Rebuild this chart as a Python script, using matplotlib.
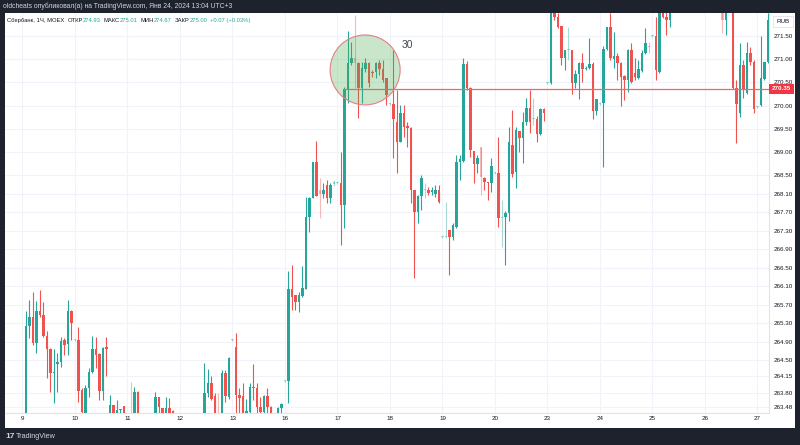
import numpy as np
import matplotlib
matplotlib.use("Agg")
import matplotlib.pyplot as plt
from matplotlib import font_manager
from matplotlib.patches import Ellipse, Rectangle

plt.rcParams['font.family'] = ['Liberation Sans', 'DejaVu Sans']

# hourly candles, Сбербанк 1Ч (index = bar number, 15 bars per day)
opens = [
    262.95, 262.99, 265.24, 265.43, 264.87, 265.56, 265.47, 265.02, 264.74, 264.22, 264.42, 264.46, 264.93, 264.85, 265.56,  # 9
    264.93, 264.93, 263.85, 263.36, 263.90, 264.24, 264.74, 264.63, 263.83, 264.78, 263.30, 263.53, 263.36, 263.42, 263.51,  # 10
    263.20, 263.30, 263.15, 263.81, 263.20, 263.00, 263.20, 263.10, 263.25, 263.70, 263.47, 263.30, 263.47, 263.40, 263.30,  # 11
    263.10, 263.10, 262.95, 263.05, 263.00, 263.15, 263.20, 263.00, 263.79, 264.01, 263.73, 263.30, 263.20, 264.22, 263.70,  # 12
    264.93, 264.78, 263.75, 263.73, 263.30, 263.38, 263.92, 263.90, 263.49, 263.38, 263.73, 263.49, 263.20, 263.20, 263.47,  # 13
    264.05, 264.05, 266.04, 265.91, 265.75, 265.89, 266.04, 267.59, 268.00, 268.78, 268.17, 268.09, 268.28, 268.00, 268.30,  # 16
    268.33, 268.33, 267.85, 270.36, 270.92, 271.03, 270.92, 270.38, 270.79, 270.92, 270.72, 270.72, 270.92, 270.79, 270.59,  # 17
    270.03, 270.03, 269.64, 269.21, 269.84, 269.56, 269.51, 268.17, 267.70, 268.04, 268.17, 268.17, 268.13, 268.09, 268.17,  # 18
    267.16, 267.16, 267.31, 267.16, 267.37, 268.78, 268.80, 270.90, 270.38, 269.02, 268.74, 269.10, 268.43, 268.35, 268.33,  # 19
    268.54, 268.54, 267.57, 267.59, 267.68, 269.15, 268.56, 269.45, 269.30, 269.64, 269.95, 269.71, 269.71, 269.38, 269.92,  # 20
    270.49, 270.49, 272.00, 271.91, 271.72, 271.03, 271.20, 271.20, 270.49, 270.68, 270.92, 270.79, 270.81, 270.90, 269.88,  # 23
    270.03, 270.05, 271.22, 271.69, 271.00, 271.07, 270.92, 270.64, 270.55, 271.20, 270.70, 270.59, 270.74, 271.13, 271.28,  # 24
    271.50, 271.50, 270.72, 272.05, 271.91, 271.85, 272.10, 272.30, 272.25, 272.45, 272.35, 272.50, 272.40, 272.30, 272.35,  # 25
    272.20, 272.20, 272.35, 272.25, 272.15, 272.10, 271.85, 272.05, 272.15, 270.38, 269.84, 270.87, 270.27, 271.13, 270.94,  # 26
    269.97, 270.01, 270.57, 270.94,  # 27
]
highs = [
    263.00, 265.56, 265.80, 265.97, 265.78, 266.01, 265.75, 265.13, 264.76, 264.74, 264.65, 265.00, 264.98, 265.80, 265.58,
    264.95, 265.21, 263.90, 263.96, 264.33, 265.02, 265.00, 264.65, 264.78, 265.00, 263.75, 263.53, 263.64, 263.45, 263.51,
    263.25, 264.03, 263.92, 263.83, 263.30, 263.30, 263.30, 263.32, 263.81, 263.70, 263.47, 263.70, 263.68, 263.42, 263.32,
    263.15, 263.20, 263.15, 263.20, 263.25, 263.30, 263.30, 264.44, 264.31, 264.16, 263.79, 263.79, 264.29, 264.29, 264.57,
    264.95, 265.08, 263.90, 264.01, 263.66, 264.01, 264.42, 264.01, 263.70, 263.75, 263.90, 263.52, 263.30, 263.49, 263.57,
    264.07, 266.43, 266.55, 265.91, 265.97, 266.53, 268.02, 268.02, 268.78, 269.23, 268.43, 268.33, 268.39, 268.33, 268.39,
    268.35, 268.99, 270.40, 271.61, 271.37, 271.95, 270.94, 270.94, 271.03, 270.94, 270.77, 270.94, 270.98, 270.98, 270.59,
    270.05, 271.20, 270.33, 270.01, 270.01, 269.64, 269.54, 268.17, 268.07, 268.50, 268.33, 268.24, 268.24, 268.28, 268.28,
    267.18, 267.91, 267.31, 267.46, 268.93, 268.93, 271.03, 270.96, 270.40, 269.02, 268.93, 269.10, 268.45, 268.35, 268.86,
    268.56, 269.32, 267.96, 267.72, 269.54, 269.90, 269.54, 269.45, 269.86, 270.16, 270.33, 270.16, 269.77, 269.95, 269.94,
    270.51, 272.20, 272.15, 272.00, 271.72, 271.20, 271.69, 271.20, 270.77, 270.94, 271.13, 270.85, 271.46, 270.94, 270.14,
    270.05, 271.28, 271.69, 272.00, 271.59, 271.13, 270.94, 270.66, 271.22, 271.35, 271.03, 270.98, 271.20, 271.67, 271.37,
    271.52, 271.91, 272.15, 272.20, 272.10, 272.20, 272.40, 272.45, 272.55, 272.60, 272.65, 272.60, 272.50, 272.45, 272.40,
    272.22, 272.45, 272.50, 272.35, 272.25, 272.20, 272.15, 272.30, 272.25, 270.55, 271.35, 270.98, 271.37, 271.26, 270.98,
    269.99, 271.50, 270.94, 272.00,
]
lows = [
    262.80, 262.88, 264.99, 264.83, 264.65, 265.43, 265.00, 264.11, 263.81, 263.57, 263.81, 264.35, 264.61, 264.61, 264.93,
    264.91, 263.60, 263.21, 263.25, 263.70, 264.22, 264.33, 263.64, 263.64, 264.16, 263.20, 263.21, 263.20, 263.30, 263.20,
    263.15, 263.05, 263.10, 263.00, 262.90, 262.90, 263.00, 263.00, 263.10, 263.36, 263.20, 263.25, 263.25, 263.20, 263.00,
    263.05, 262.85, 262.85, 262.90, 262.95, 263.05, 263.00, 262.95, 263.70, 263.64, 263.10, 263.00, 263.10, 263.60, 263.66,
    264.91, 263.30, 263.30, 263.10, 263.20, 263.30, 263.64, 263.30, 263.30, 263.30, 263.30, 263.10, 263.00, 263.10, 263.30,
    264.03, 263.57, 265.58, 265.58, 265.54, 265.86, 266.04, 267.27, 268.00, 268.04, 267.57, 268.00, 267.89, 267.89, 268.26,
    268.31, 266.99, 267.35, 270.05, 270.87, 270.38, 269.73, 270.05, 270.72, 270.40, 270.62, 270.59, 270.66, 270.51, 270.01,
    270.01, 268.86, 268.54, 269.21, 269.32, 269.10, 267.89, 266.27, 267.46, 267.74, 268.00, 268.07, 268.07, 268.02, 267.89,
    267.14, 267.14, 266.34, 267.09, 267.35, 268.39, 268.78, 270.33, 268.89, 268.33, 268.54, 268.07, 268.17, 267.96, 268.13,
    268.52, 267.37, 266.94, 266.55, 267.50, 268.45, 268.22, 268.99, 268.76, 269.58, 269.40, 269.58, 269.21, 269.36, 269.66,
    270.47, 270.47, 271.85, 271.67, 270.87, 270.77, 270.98, 270.25, 270.38, 270.14, 270.51, 270.77, 270.80, 269.71, 269.79,
    270.01, 268.67, 271.20, 270.98, 270.81, 270.55, 269.99, 270.12, 270.29, 270.49, 270.55, 270.57, 270.72, 271.12, 271.13,
    271.48, 270.55, 270.70, 271.89, 271.52, 271.69, 272.05, 272.15, 272.20, 272.25, 272.30, 272.30, 272.15, 272.20, 272.10,
    272.18, 272.10, 272.15, 272.05, 272.03, 271.57, 271.52, 272.02, 270.36, 269.19, 269.75, 270.16, 270.25, 270.87, 269.84,
    269.95, 269.99, 270.55, 270.92,
]
closes = [
    262.95, 265.24, 265.43, 264.87, 265.56, 265.47, 265.02, 264.74, 264.22, 264.24, 264.46, 264.91, 264.83, 265.56, 265.30,
    264.93, 263.83, 263.38, 263.90, 264.24, 264.74, 264.61, 263.83, 264.76, 264.74, 263.53, 263.36, 263.42, 263.43, 263.36,
    263.20, 263.15, 263.81, 263.20, 263.00, 263.20, 263.10, 263.25, 263.70, 263.49, 263.30, 263.47, 263.34, 263.30, 263.10,
    263.10, 262.95, 263.05, 263.00, 263.15, 263.20, 263.10, 263.79, 264.01, 263.66, 263.25, 263.20, 264.22, 263.73, 264.55,
    264.93, 263.75, 263.68, 263.25, 263.40, 263.92, 263.90, 263.49, 263.38, 263.73, 263.49, 263.20, 263.10, 263.47, 263.55,
    264.05, 266.04, 265.86, 265.75, 265.91, 266.06, 267.59, 268.00, 268.78, 268.04, 268.09, 268.17, 268.00, 268.28, 268.35,
    268.33, 267.85, 270.36, 270.92, 271.03, 270.92, 270.38, 270.81, 270.92, 270.49, 270.70, 270.92, 270.79, 270.55, 270.23,
    270.03, 269.71, 269.21, 269.84, 269.54, 269.51, 268.17, 267.70, 268.04, 268.43, 268.17, 268.11, 268.17, 268.17, 267.91,
    267.16, 267.18, 267.16, 267.42, 268.78, 268.84, 270.90, 270.38, 269.04, 268.74, 268.86, 268.45, 268.35, 268.33, 268.69,
    268.54, 267.57, 267.59, 267.68, 269.21, 268.52, 269.47, 269.30, 269.64, 269.95, 269.64, 269.72, 269.38, 269.92, 269.84,
    270.49, 272.05, 271.91, 271.69, 271.03, 271.20, 271.21, 270.49, 270.68, 270.92, 270.79, 270.81, 270.90, 269.88, 270.14,
    270.03, 271.22, 271.69, 271.03, 271.07, 270.92, 270.62, 270.55, 271.20, 270.51, 270.62, 270.79, 271.13, 271.35, 271.27,
    271.50, 270.77, 272.05, 271.91, 271.85, 272.10, 272.30, 272.25, 272.45, 272.35, 272.50, 272.40, 272.30, 272.35, 272.20,
    272.20, 272.35, 272.25, 272.15, 272.10, 271.85, 272.05, 272.15, 270.38, 270.03, 270.87, 270.33, 271.13, 270.94, 269.92,
    269.97, 270.59, 270.94, 271.85,
]
# thin / low-activity bars drawn pale on the chart
faded = [0, 15, 30, 31, 45, 56, 60, 75, 85, 89, 90, 95, 105, 115, 120, 121, 131, 135, 137,
         146, 150, 156, 165, 179, 180, 195, 200, 210]

day_labels = ['9', '10', '11', '12', '13', '16', '17', '18', '19', '20', '23', '24', '25', '26', '27']
price_ticks = [271.50, 271.00, 270.50, 270.00, 269.50, 269.00, 268.50, 268.10, 267.70,
               267.30, 266.90, 266.50, 266.10, 265.70, 265.30, 264.90, 264.50, 264.15,
               263.80, 263.48]
ray_price = 270.35

W, H = 800, 445
GREEN = '#26a69a'
RED = '#ef5350'
TEXT = '#131722'
LINE = '#e0e3eb'

# narrow face for the price scale if it is there
try:
    font_manager.findfont('Liberation Sans Narrow', fallback_to_default=False)
    SCALE_FONT = ['Liberation Sans Narrow', 'DejaVu Sans']
    SCALE_SIZE = 5.2
except ValueError:
    SCALE_FONT = ['Liberation Sans', 'DejaVu Sans']
    SCALE_SIZE = 4.5


def fx(px):
    return px / W


def fy(py):
    return 1 - py / H


fig = plt.figure(figsize=(8, 4.45), dpi=100, facecolor='#1e222d')

# white chart panel
panel = fig.add_axes([fx(5), fy(428), fx(790), 415 / H])
panel.set_facecolor('white')
panel.set_xticks([])
panel.set_yticks([])
for s in panel.spines.values():
    s.set_visible(False)

ax = fig.add_axes([fx(5), fy(413), fx(764), 400 / H])
ax.set_facecolor('white')
ax.set_xlim(-5, 213.3)
ax.set_ylim(263.36, 272.0)

o = np.array(opens)
h = np.array(highs)
l = np.array(lows)
c = np.array(closes)
x = np.arange(len(o))
up = c >= o
cols = []
for i in range(len(o)):
    rgba = list(matplotlib.colors.to_rgba(GREEN if up[i] else RED))
    if i in faded:
        rgba[3] = 0.4
    cols.append(tuple(rgba))

ax.vlines(x, l, h, colors=cols, linewidth=0.8, zorder=3)
ax.bar(x, np.maximum(np.abs(c - o), 0.018), bottom=np.minimum(o, c), width=0.8,
       color=cols, linewidth=0, zorder=4)

# grid
ax.set_xticks(np.arange(0, 15 * len(day_labels), 15))
ax.set_xticklabels(day_labels)
ax.set_yticks(price_ticks)
ax.set_yticklabels(['%.2f' % p for p in price_ticks])
ax.grid(True, color='#f0f3fa', linewidth=0.8, zorder=0)
ax.set_axisbelow(True)
ax.yaxis.tick_right()
ax.tick_params(axis='both', length=0, labelsize=SCALE_SIZE, labelcolor=TEXT)
ax.tick_params(axis='y', pad=3)
ax.tick_params(axis='x', pad=2.5)
for t in ax.get_yticklabels() + ax.get_xticklabels():
    t.set_family(SCALE_FONT)
for name, s in ax.spines.items():
    if name in ('right', 'bottom'):
        s.set_color(LINE)
        s.set_linewidth(0.8)
    else:
        s.set_visible(False)

# horizontal ray and highlight circle
ax.plot([92, 214], [ray_price, ray_price], color='#f4646e', linewidth=0.9, zorder=5)
ax.add_patch(Ellipse((97.9, 270.77), 20, 1.51, facecolor='#4caf50', alpha=0.3,
                     edgecolor='none', zorder=6))
ax.add_patch(Ellipse((97.9, 270.77), 20, 1.51, facecolor='none',
                     edgecolor='#e57f84', linewidth=0.8, zorder=7))
ax.text(110.1, 271.31, '30', fontsize=7.5, color='#434651', ha='center', va='center', zorder=8)

# price label of the ray
fig.patches.append(Rectangle((fx(769), fy(94)), fx(25), 10 / H, transform=fig.transFigure,
                             facecolor='#f23645', edgecolor='none', zorder=5))
fig.text(fx(781.5), fy(88.8), '%.2f' % ray_price, color='white', fontsize=SCALE_SIZE,
         fontweight='bold', ha='center', va='center', family=SCALE_FONT, zorder=6)
# currency box
fig.patches.append(Rectangle((fx(773), fy(27)), fx(20), 11 / H, transform=fig.transFigure,
                             facecolor='white', edgecolor=LINE, linewidth=0.6, zorder=5))
fig.text(fx(783), fy(21.5), 'RUB', color=TEXT, fontsize=4.5, ha='center', va='center', zorder=6)

# header line
fig.text(fx(3), fy(6.5), 'oldcheats опубликовал(а) на TradingView.com, Янв 24, 2024 13:04 UTC+3',
         color='#d1d4dc', fontsize=4.9, ha='left', va='center')

# legend line, laid out piece after piece
legend_parts = [
    ('Сбербанк, 1Ч, MOEX', TEXT, 3), ('ОТКР', TEXT, 0), ('274.93', GREEN, 3),
    ('МАКС', TEXT, 0), ('275.01', GREEN, 3), ('МИН', TEXT, 0), ('274.67', GREEN, 3),
    ('ЗАКР', TEXT, 0), ('275.00', GREEN, 3), ('+0.07 (+0.03%)', GREEN, 0),
]
renderer = fig.canvas.get_renderer()
cur = 7.0
for s, col, gap in legend_parts:
    t = fig.text(fx(cur), fy(20.5), s, color=col, fontsize=4.2, ha='left', va='center')
    bb = t.get_window_extent(renderer)
    cur = bb.x1 + gap

# footer logo
fig.text(fx(5), fy(437), '17', color='#d1d4dc', fontsize=6, fontweight='bold', ha='left', va='center')
fig.text(fx(16), fy(437), 'TradingView', color='#d1d4dc', fontsize=5.2, ha='left', va='center')

fig.savefig('out.png', dpi=100, facecolor=fig.get_facecolor())
